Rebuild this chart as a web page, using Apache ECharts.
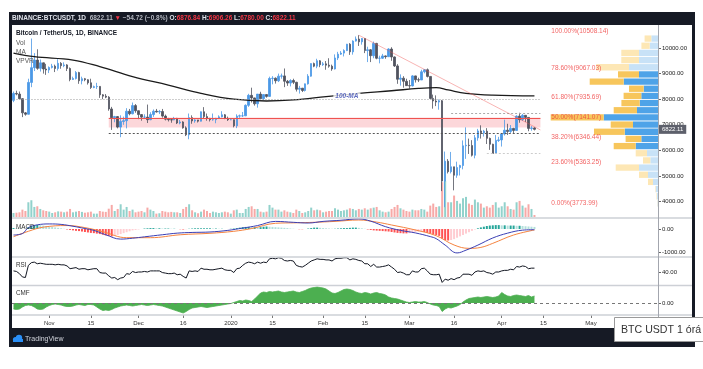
<!DOCTYPE html>
<html><head><meta charset="utf-8">
<script src="https://cdn.jsdelivr.net/npm/echarts@6/dist/echarts.min.js"></script>
<style>html,body{margin:0;padding:0;background:#fff}#c{width:703px;height:369px}</style>
</head><body><div id="c"></div>
<script>
// ---------- categories ----------
const dates = [];
(function(){ const d0 = Date.UTC(2019,9,20); for(let i=0;i<217;i++){ dates.push(new Date(d0+i*86400000).toISOString().slice(0,10)); } })();
const tickDates  = ['2019-11-01','2019-11-15','2019-12-01','2019-12-16','2020-01-01','2020-01-15','2020-02-01','2020-02-15','2020-03-01','2020-03-16','2020-04-01','2020-04-15','2020-05-01'];
const tickLabels = ['Nov','15','Dec','16','2020','15','Feb','15','Mar','16','Apr','15','May'];
const priceTicks = [4000,5000,6000,7000,8000,9000,10000];

// ---------- OHLC (Oct 20 2019 .. Apr 12 2020) ----------
const opens = [
7955,8226,8201,8020,7466,7412,8655,9230,9530,9205,9420,9180,
9140,9240,9290,9200,9400,9310,9340,9200,8770,8810,9040,8720,8800,8760,8640,8460,8490,8500,8170,8120,8080,7620,7280,7320,6910,7130,7160,7530,7430,7750,
7550,7400,7300,7300,7200,7400,7530,7500,7520,7340,7220,7200,7190,7250,7070,7110,6880,6610,7280,7150,7190,7140,7510,7320,7250,7200,7200,7250,7310,7390,7250,
7200,7200,6960,7340,7350,7350,7760,8150,8050,7820,8200,8020,8180,8110,8810,8820,8720,8900,8910,8700,8630,8730,8660,8390,8430,8340,8600,8900,9390,9290,9500,
9350,9380,9330,9290,9180,9610,9760,9800,9900,10150,9850,10270,10350,10240,10370,9900,9930,9700,10180,9600,9600,9690,9660,9960,9650,9300,8780,8820,8700,
8530,8520,8910,8760,8750,9070,9150,8890,8030,7930,7890,7940,4800,5578,5170,5360,5030,5330,5410,6180,6200,6190,5810,6490,6760,6690,6750,6470,6240,5880,6390,
6410,6640,6790,6740,6860,6780,7340,7200,7370,7290,6860,6876.84];
const closes = [
8226,8201,8020,7466,7412,8655,9230,9530,9205,9420,9180,9140,
9240,9290,9200,9400,9310,9340,9200,8770,8810,9040,8720,8800,8760,8640,8460,8490,8500,8170,8120,8080,7620,7280,7320,6910,7130,7160,7530,7430,7750,7550,
7400,7300,7300,7200,7400,7530,7500,7520,7340,7220,7200,7190,7250,7070,7110,6880,6610,7280,7150,7190,7140,7510,7320,7250,7200,7200,7250,7310,7390,7250,7200,
7200,6960,7340,7350,7350,7760,8150,8050,7820,8200,8020,8180,8110,8810,8820,8720,8900,8910,8700,8630,8730,8660,8390,8430,8340,8600,8900,9390,9290,9500,9350,
9380,9330,9290,9180,9610,9760,9800,9900,10150,9850,10270,10350,10240,10370,9900,9930,9700,10180,9600,9600,9690,9660,9960,9650,9300,8780,8820,8700,8530,
8520,8910,8760,8750,9070,9150,8890,8030,7930,7890,7940,4800,5578,5170,5360,5030,5330,5410,6180,6200,6190,5810,6490,6760,6690,6750,6470,6240,5880,6390,6410,
6640,6790,6740,6860,6780,7340,7200,7370,7290,6860,6876.83,6822.11];
const highs = [
8299,8333,8300,8043,7500,8800,10370,9800,9950,9550,9430,9380,
9280,9380,9350,9560,9450,9440,9370,9240,8880,9100,9070,8880,8830,8780,8800,8530,8640,8510,8200,8200,8120,7700,7350,7340,7370,7320,7650,7620,7870,7810,
7560,7420,7410,7790,7490,7600,7620,7580,7620,7400,7270,7250,7310,7270,7190,7140,6940,7440,7370,7220,7190,7520,7690,7440,7270,7440,7270,7370,7530,7420,7320,
7250,7210,7410,7400,7500,7800,8210,8450,8060,8200,8290,8190,8200,8880,8900,8850,9000,9000,9200,8750,8780,8800,8680,8520,8440,8610,8980,9400,9430,9580,9530,
9450,9490,9600,9350,9750,9850,9880,9950,10160,10190,10300,10450,10500,10390,10380,10050,9960,10250,10200,9700,9770,9710,9990,10030,9670,9370,8970,8900,8800,
8750,8940,8920,8840,9150,9170,9200,8900,8180,8150,7990,7970,5955,5660,5940,5360,5560,5440,6390,6900,6460,6400,6600,6840,6980,6800,6870,6500,6260,6600,6530,
6680,7200,7040,6990,6880,7370,7470,7420,7380,7300,6950,6906.26];
const lows = [
7884,8153,8000,7300,7357,7400,8470,9100,9150,9080,9000,8950,
9020,9200,9060,9120,9190,9250,9100,8700,8750,8770,8600,8580,8700,8570,8400,8430,8400,8050,8000,8040,7550,6800,7100,6860,6515,7000,6860,7370,7410,7470,
7220,7160,7240,7070,7180,7310,7480,7420,7280,7170,7130,7080,7180,7030,7020,6850,6560,6435,7040,7080,7090,7130,7260,7160,7130,7160,7060,7240,7290,7220,7150,
7180,6900,6870,7270,7310,7340,7700,7870,7750,7670,8020,7970,8060,8100,8580,8610,8670,8800,8470,8520,8500,8590,8300,8220,8280,8300,8570,8880,9250,9210,9250,
9300,9150,9230,9110,9160,9530,9730,9670,9880,9730,9740,10250,10080,10130,9800,9450,9450,9600,9560,9400,9570,9580,9650,9500,9260,8600,8530,8450,8520,
8410,8500,8650,8670,8750,9010,8850,8000,7630,7730,7590,4410,3782,5100,5100,4440,4930,5020,5260,5670,5860,5760,5690,6380,6460,6540,6250,6020,5860,5860,6330,
6150,6580,6600,6680,6670,6770,7080,7150,7110,6750,6770,6780];
// volume, thousand BTC
const volumes = [
30,32,35,55,45,110,125,75,80,60,50,45,
40,30,35,42,40,35,40,60,35,40,45,38,32,35,40,25,25,45,40,38,62,90,45,60,95,55,75,45,55,35,
40,45,35,70,55,45,25,28,45,40,35,38,35,35,30,60,75,95,50,35,28,40,55,45,30,40,35,30,35,40,35,
25,50,55,30,30,60,75,80,60,60,40,35,40,90,70,55,55,40,50,40,35,30,55,45,30,35,45,70,50,55,50,
35,40,45,45,65,55,45,50,55,65,60,50,60,55,65,55,65,70,75,50,40,35,40,60,75,90,65,55,45,
40,55,50,50,60,55,40,85,100,75,80,260,270,110,110,160,120,100,140,150,100,90,130,110,100,70,80,70,90,110,70,
80,110,80,60,55,110,120,85,70,95,60,15];

// 100-day MA: [dayIndex, price]
const ma100 = [[0,9800],[7,9660],[20,9530],[29,9270],[40,8880],[52,8550],[63,8230],[74,8000],[85,7930],[94,7970],[105,8100],[116,8230],[127,8330],[136,8420],[142,8450],[146,8360],[152,8230],[161,8160],[175,8130]];

// ---------- indicators ----------
const macdLine = [[0,-260],[3,-200],[5,60],[8,180],[12,220],[16,200],[20,120],[24,20],[27,-60],[31,-250],[36,-440],[40,-400],[44,-340],[50,-250],[55,-180],[60,-150],[66,-130],[72,-60],[77,40],[82,150],[88,330],[94,290],[99,260],[104,330],[110,380],[116,440],[120,340],[125,100],[130,-60],[135,-170],[140,-330],[142,-420],[145,-700],[149,-1040],[152,-920],[156,-700],[161,-390],[166,-180],[171,-50],[175,-30]];
const signalLine = [[0,-335],[5,-100],[10,80],[18,150],[24,60],[30,-117],[38,-378],[46,-378],[56,-250],[66,-187],[74,-100],[80,20],[88,248],[95,270],[101,291],[108,330],[116,391],[122,300],[127,174],[135,-43],[142,-291],[148,-696],[153,-841],[157,-800],[161,-623],[168,-261],[175,-43]];
const macdHist = [
40,30,20,10,5,80,140,170,180,170,150,130,
110,90,70,50,30,10,-20,-40,-60,-80,-90,-110,-130,-150,-170,-180,-200,-220,-250,-280,-300,-320,-300,-260,-220,-180,-140,-100,-60,-40,
-20,0,20,30,40,40,30,30,20,20,20,10,10,0,-10,-20,-10,10,20,30,30,30,30,30,30,20,20,10,10,0,0,
10,20,40,60,80,90,90,80,80,70,80,100,110,100,90,80,70,60,50,40,20,10,0,-10,-10,0,20,40,60,60,50,
40,30,20,10,10,20,30,40,40,50,60,60,50,30,10,-20,-40,-60,-70,-80,-90,-100,-110,-130,-150,-170,-180,-190,-190,
-180,-160,-140,-120,-110,-130,-170,-200,-230,-260,-300,-420,-480,-500,-480,-440,-380,-320,-260,-200,-140,-80,-20,30,70,100,130,150,160,170,170,
160,160,150,150,150,140,140,130,120,110,100,90];
const rsi = [
42,41,37,31,30,52,57,58,55,56,55,54,
54,54,53,54,53,53,51,46,47,48,45,46,46,44,45,46,46,39,38,38,33,29,30,26,29,30,37,36,41,39,
40,40,41,40,42,42,42,42,39,38,37,37,38,35,36,32,29,42,41,42,41,47,45,45,44,44,45,46,47,44,43,
43,39,46,47,52,56,58,57,55,58,56,58,57,64,65,64,66,65,61,60,61,60,52,50,49,52,56,60,62,64,63,
63,62,62,60,64,65,65,66,66,62,64,63,61,60,55,55,50,54,49,49,50,51,53,49,45,39,40,38,35,
35,42,40,40,46,47,42,36,35,35,36,21,27,25,28,26,29,30,36,36,36,34,40,42,41,42,39,38,36,40,40,
42,43,43,45,44,50,49,51,50,46,47,47];
const cmf = [
-0.12,-0.13,-0.12,-0.08,-0.05,-0.04,-0.05,-0.08,-0.12,-0.13,-0.12,-0.08,
-0.05,-0.03,-0.02,-0.03,-0.04,-0.06,-0.07,-0.07,-0.06,-0.04,-0.03,-0.04,-0.05,-0.03,-0.03,-0.04,-0.08,-0.12,-0.15,-0.14,-0.15,-0.13,-0.10,-0.08,-0.06,-0.05,-0.04,-0.05,-0.06,-0.05,
-0.04,-0.03,-0.04,-0.05,-0.04,-0.03,-0.04,-0.05,-0.06,-0.08,-0.10,-0.12,-0.14,-0.16,-0.18,-0.20,-0.17,-0.13,-0.10,-0.09,-0.08,-0.07,-0.08,-0.09,-0.08,-0.07,-0.06,-0.05,-0.04,-0.03,-0.02,
-0.01,0.01,0.03,0.05,0.04,0.06,0.05,0.03,0.08,0.14,0.20,0.22,0.21,0.23,0.22,0.23,0.24,0.22,0.21,0.22,0.23,0.24,0.22,0.21,0.23,0.25,0.28,0.30,0.31,0.32,0.31,
0.30,0.28,0.24,0.20,0.19,0.21,0.24,0.27,0.28,0.27,0.25,0.22,0.20,0.19,0.21,0.20,0.18,0.20,0.21,0.19,0.18,0.16,0.12,0.10,0.09,0.08,0.06,0.04,0.02,
0.01,0.02,0.03,0.02,0.02,0.03,0.01,-0.02,-0.04,-0.05,-0.07,-0.17,-0.12,-0.09,-0.10,-0.08,-0.06,-0.03,0.02,0.06,0.09,0.10,0.11,0.12,0.11,0.12,0.13,0.12,0.11,0.12,0.14,
0.21,0.17,0.14,0.13,0.15,0.16,0.15,0.14,0.13,0.15,0.12,0.14];

// ---------- fibonacci & VPVR ----------
const fibLevels = ['100.00%','78.60%','61.80%','50.00%','38.20%','23.60%','0.00%'];
const fibPrices = [10508.14, 9067.03, 7935.69, 7141.07, 6346.44, 5363.25, 3773.99];
const vpRows = ['r1','r2','r3','r4','r5','r6','r7','r8','r9','r10','r11','r12','r13','r14','r15','r16','r17','r18','r19','r20','r21','r22','r23','r24'];
const vpUp   = [6.7,8.3,19,19,29,19,34.3,14.3,16.7,18.3,21,54.3,25,33.3,16.7,22.3,11,7.7,19,10,5,2.3,1,0.5];
const vpDown = [6.7,8.3,17.7,17.7,32.7,21,34,14.7,17.7,18.3,23.3,53,22.3,30.7,15.7,22,11.3,7.3,23.3,9,5,0.5,0.5,0.3];
const vpValueArea = [5, 15];
const lastPrice = 6822.11;

// ---------- build ----------
const FONT = '"Liberation Sans", Arial, sans-serif';
const DARK = '#161a25';
const UP = '#4b98e6', DOWN = '#50535e';
const tickIdx = tickDates.map(d => dates.indexOf(d));
const tickSet = new Set(tickIdx);
const tickLabelOf = {}; tickIdx.forEach((ix,k)=>{ tickLabelOf[dates[ix]] = tickLabels[k]; });

const candleData = opens.map((o,i)=>[o, closes[i], lows[i], highs[i]]);
const volData = volumes.map((v,i)=>({value:v, itemStyle:{color: closes[i] >= opens[i] ? 'rgba(38,166,154,0.5)' : 'rgba(239,83,80,0.5)'}}));
const histData = macdHist.map((v,i)=>{
  const prev = i>0 ? macdHist[i-1] : 0;
  let c;
  if (v >= 0) c = v >= prev ? '#26a69a' : '#b2dfdb';
  else c = v <= prev ? '#ff5252' : '#ffcdd2';
  return {value:v, itemStyle:{color:c}};
});
const inVA = k => k >= vpValueArea[0] && k <= vpValueArea[1];
const vpUpData = vpUp.map((v,k)=>({value:v, itemStyle:{color: inVA(k) ? '#4ea3e8' : '#c8e2f7'}}));
const vpDownData = vpDown.map((v,k)=>({value:v, itemStyle:{color: inVA(k) ? '#f7c65c' : '#fde7b5'}}));

const L = 12, R = 45;
const grids = [
  {left:L, right:R, top:25, height:193},     // 0 price
  {left:L, right:R, top:150, height:67},     // 1 volume
  {left:L, right:R, top:218, height:39},     // 2 macd
  {left:L, right:R, top:257, height:29},     // 3 rsi
  {left:L, right:R, top:286, height:29},     // 4 cmf
  {left:L, right:R, top:300, height:15},     // 5 time labels
  {left:538, right:R, top:35, height:172}    // 6 vpvr
].map(g => Object.assign({outerBoundsMode:'none', containLabel:false}, g));

function cat(gi){ return {type:'category', gridIndex:gi, data:dates, boundaryGap:true, show:false}; }
const xAxes = [cat(0),cat(1),cat(2),cat(3),cat(4),
  {type:'category', gridIndex:5, data:dates, boundaryGap:true,
   axisLine:{show:false},
   axisTick:{show:true, alignWithLabel:true, length:3, interval:(i)=>tickSet.has(i), lineStyle:{color:'#777'}},
   axisLabel:{interval:(i)=>tickSet.has(i), formatter:(v)=>tickLabelOf[v]||'', fontSize:6, color:'#333', margin:5, fontFamily:FONT}},
  {type:'value', gridIndex:6, inverse:true, min:0, max:120, show:false}
];
function sideAxis(gi, min, max, vals, fmt){
  return {type:'value', gridIndex:gi, position:'right', min:min, max:max, scale:false,
    axisLine:{show:false}, splitLine:{show:false},
    axisTick:{show:true, length:3, customValues:vals, lineStyle:{color:'#666'}},
    axisLabel:{customValues:vals, formatter:fmt, fontSize:6, color:'#222', margin:4, fontFamily:FONT}};
}
const yAxes = [
  sideAxis(0, 3359.4, 10898.4, priceTicks, v=>v.toFixed(2)),
  {type:'value', gridIndex:1, min:0, max:500, show:false},
  sideAxis(2, -1217, 478, [0,-1000], v=>v.toFixed(2)),
  sideAxis(3, 14.5, 67.3, [40], v=>v.toFixed(2)),
  sideAxis(4, -0.24, 0.34, [0], v=>v.toFixed(2)),
  {type:'value', gridIndex:5, show:false},
  {type:'category', gridIndex:6, data:vpRows, inverse:true, show:false}
];

const noLabel = {show:false};
const series = [
  {type:'bar', name:'vol', xAxisIndex:1, yAxisIndex:1, data:volData, barWidth:2, z:1, silent:true},
  {type:'candlestick', name:'BTCUSDT', xAxisIndex:0, yAxisIndex:0, data:candleData, barWidth:2, z:3,
   itemStyle:{color:UP, color0:DOWN, borderColor:UP, borderColor0:DOWN, borderWidth:0.8},
   markArea:{silent:true, itemStyle:{color:'rgba(242,54,69,0.2)'},
     data:[[{coord:[dates[32],7290]},{coord:[dates[177],6890]}]]},
   markLine:{silent:true, symbol:['none','none'], label:noLabel, animation:false,
     data:[
       [{coord:[dates[0],7990], lineStyle:{color:'#9c9c9c', type:[1,2], width:1}},{coord:[dates[177],7990]}],
       [{coord:[dates[32],6680], lineStyle:{color:'#555', type:[2,2], width:1}},{coord:[dates[177],6680]}],
       [{coord:[dates[147],7460], lineStyle:{color:'#aaa', type:[2,2], width:1}},{coord:[dates[177],7460]}],
       [{coord:[dates[159],5900], lineStyle:{color:'#ccc', type:[2,2], width:1}},{coord:[dates[177],5900]}],
       [{coord:[dates[32],7270], lineStyle:{color:'#ef5350', type:'solid', width:1}},{coord:[dates[177],7270]}],
       [{coord:[dates[116],10500], lineStyle:{color:'rgba(239,83,80,0.55)', type:'solid', width:0.8}},{coord:[dates[177],6800]}],
       {yAxis:lastPrice, lineStyle:{color:'rgba(0,0,0,0)', width:0},
        label:{show:true, position:'end', distance:1, formatter:lastPrice.toFixed(2), color:'#fff', backgroundColor:'#5d606b', padding:[2,3,1,3], fontSize:6, fontFamily:FONT}}
     ]}},
  {type:'line', name:'MA100', xAxisIndex:0, yAxisIndex:0, data:ma100, smooth:0.4, showSymbol:false, z:4,
   lineStyle:{color:'#1b1b1b', width:1.3}, silent:true},
  {type:'scatter', name:'malabel', xAxisIndex:0, yAxisIndex:0, data:[[dates[112],8125]], symbolSize:0, z:6, silent:true,
   label:{show:true, position:'inside', formatter:'100-MA', color:'#3848b0', fontStyle:'italic', fontWeight:'bold', fontSize:6.5, backgroundColor:'#fff', padding:[0,2], fontFamily:FONT}},
  {type:'bar', name:'vpUp', xAxisIndex:6, yAxisIndex:6, stack:'vp', data:vpUpData, barWidth:6.3, z:2, silent:true},
  {type:'bar', name:'vpDown', xAxisIndex:6, yAxisIndex:6, stack:'vp', data:vpDownData, barWidth:6.3, z:2, silent:true},
  {type:'scatter', name:'fib', xAxisIndex:0, yAxisIndex:0, data:fibPrices.map(p=>[dates[180],p]), symbolSize:0, z:8, silent:true,
   label:{show:true, position:'right', distance:2, offset:[0,-4], fontSize:6.5, color:'#ef3b3b', fontFamily:FONT,
     formatter:(p)=>fibLevels[p.dataIndex]+'('+fibPrices[p.dataIndex].toFixed(2)+')'}},
  {type:'bar', name:'hist', xAxisIndex:2, yAxisIndex:2, data:histData, barWidth:2, silent:true},
  {type:'line', name:'macd', xAxisIndex:2, yAxisIndex:2, data:macdLine, smooth:0.4, showSymbol:false, lineStyle:{color:'#3a3fb4', width:1}, silent:true, z:4},
  {type:'line', name:'signal', xAxisIndex:2, yAxisIndex:2, data:signalLine, smooth:0.4, showSymbol:false, lineStyle:{color:'#f5833f', width:1}, silent:true, z:3},
  {type:'line', name:'rsi', xAxisIndex:3, yAxisIndex:3, data:rsi, showSymbol:false, lineStyle:{color:'#131722', width:1}, silent:true},
  {type:'line', name:'cmf', xAxisIndex:4, yAxisIndex:4, data:cmf, showSymbol:false, lineStyle:{color:'#4caf50', width:0.8},
   areaStyle:{color:'#4caf50', opacity:1, origin:0}, silent:true,
   markLine:{silent:true, symbol:['none','none'], label:noLabel, data:[{yAxis:0}], lineStyle:{color:'#777', type:[3,3], width:1}}}
];

function txt(x,y,t,size,color,weight){
  return {type:'text', x:x, y:y, silent:true, z:60,
    style:{text:t, fontSize:size, fontWeight:weight||'normal', fontFamily:FONT, fill:color, verticalAlign:'middle'}};
}
const graphics = [
  // separators
  {type:'line', shape:{x1:12,y1:218,x2:692,y2:218}, style:{stroke:'#cdd0d6', lineWidth:1.5}, z:50, silent:true},
  {type:'line', shape:{x1:12,y1:257,x2:692,y2:257}, style:{stroke:'#cdd0d6', lineWidth:1.5}, z:50, silent:true},
  {type:'line', shape:{x1:12,y1:285.5,x2:692,y2:285.5}, style:{stroke:'#cdd0d6', lineWidth:1.5}, z:50, silent:true},
  {type:'line', shape:{x1:12,y1:315,x2:692,y2:315}, style:{stroke:'#cdd0d6', lineWidth:1.5}, z:50, silent:true},
  {type:'line', shape:{x1:658.5,y1:25,x2:658.5,y2:328}, style:{stroke:'#a3a6ae', lineWidth:1}, z:50, silent:true},
  // frame
  {type:'rect', shape:{x:9,y:12,width:686,height:13}, style:{fill:DARK}, z:100, silent:true},
  {type:'rect', shape:{x:9,y:12,width:3,height:335}, style:{fill:DARK}, z:100, silent:true},
  {type:'rect', shape:{x:692,y:12,width:3,height:335}, style:{fill:DARK}, z:100, silent:true},
  {type:'rect', shape:{x:9,y:328,width:686,height:19}, style:{fill:DARK}, z:100, silent:true},
  // header
  {type:'text', x:12, y:18.7, silent:true, z:110,
   style:{text:'{w|BINANCE:BTCUSDT, 1D}  {g|6822.11} {r|▼} {g|−54.72 (−0.8%)} {w|O:}{r|6876.84} {w|H:}{r|6906.26} {w|L:}{r|6780.00} {w|C:}{r|6822.11}',
     fontSize:6.5, fontWeight:'bold', fontFamily:FONT, fill:'#e0e3eb', verticalAlign:'middle',
     rich:{w:{fill:'#e0e3eb', fontSize:6.5, fontWeight:'bold', fontFamily:FONT},
           g:{fill:'#b2b5be', fontSize:6.5, fontWeight:'bold', fontFamily:FONT},
           r:{fill:'#f23645', fontSize:6.5, fontWeight:'bold', fontFamily:FONT}}}},
  // legend texts
  txt(16,33,'Bitcoin / TetherUS, 1D, BINANCE',6.5,'#131722','bold'),
  txt(16,43,'Vol',6.5,'#555'),
  txt(16,52,'MA',6.5,'#555'),
  txt(16,61,'VPVR',6.5,'#555'),
  txt(16,227,'MACD',6.3,'#333'),
  txt(16,265,'RSI',6.3,'#333'),
  txt(16,293,'CMF',6.3,'#333'),
  // logo
  {type:'circle', shape:{cx:15.5,cy:339.5,r:2.6}, style:{fill:'#2a8ff7'}, z:110, silent:true},
  {type:'circle', shape:{cx:19,cy:338,r:3.2}, style:{fill:'#2a8ff7'}, z:110, silent:true},
  {type:'rect', shape:{x:13,y:339,width:10,height:3}, style:{fill:'#2a8ff7'}, z:110, silent:true},
  {type:'text', x:25, y:339, silent:true, z:110, style:{text:'TradingView', fontSize:7, fontFamily:FONT, fill:'#d1d4dc', verticalAlign:'middle'}},
  // caption box
  {type:'rect', shape:{x:614.5,y:317.5,width:95,height:24}, style:{fill:'#fff', stroke:'#9a9a9a', lineWidth:1}, z:120, silent:true},
  {type:'text', x:621, y:330, silent:true, z:121, style:{text:'BTC USDT 1 órá', fontSize:10.6, fontFamily:FONT, fill:'#333', verticalAlign:'middle'}}
];

const chart = echarts.init(document.getElementById('c'), null, {renderer:'canvas'});
chart.setOption({
  animation:false, backgroundColor:'#fff', textStyle:{fontFamily:FONT},
  grid:grids, xAxis:xAxes, yAxis:yAxes, series:series, graphic:{elements:graphics}
});
</script>
</body></html>
